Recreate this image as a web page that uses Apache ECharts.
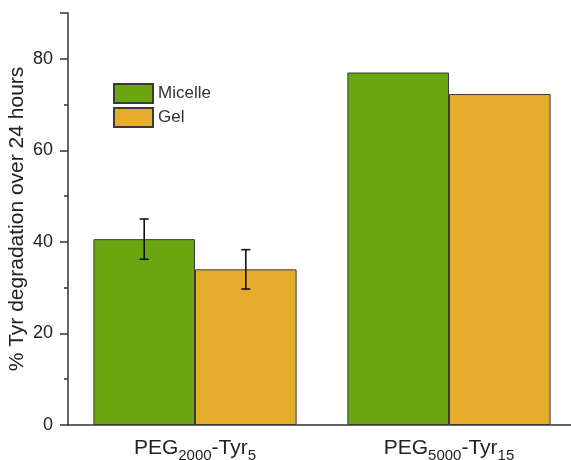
<!DOCTYPE html>
<html>
<head>
<meta charset="utf-8">
<script src="https://cdn.jsdelivr.net/npm/echarts@6/dist/echarts.min.js"></script>
<style>
  html, body { margin: 0; padding: 0; background: #fff; }
  #chart { width: 571px; height: 460px; }
</style>
</head>
<body>
<div id="chart"></div>
<script>
// Polymer samples and the subscripts used in their labels
const categories = ['PEG2000-Tyr5', 'PEG5000-Tyr15'];
const pegSub = ['2000', '5000'];
const tyrSub = ['5', '15'];

// % Tyr degradation over 24 hours
const micelle = [40.6, 77.0];
const gel = [34.0, 72.3];
// standard deviation (second sample has none reported)
const micelleErr = [4.4, null];
const gelErr = [4.3, null];

const yTicks = [0, 20, 40, 60, 80];

const GREEN = '#6aa512';
const ORANGE = '#e6ac2c';
const EDGE = '#3a3a3a';
const FONT = 'Liberation Sans, Arial, sans-serif';

const BAR_FRAC = 0.4; // each bar takes 40% of the category band

function errData(vals, errs) {
  const out = [];
  vals.forEach((v, i) => {
    if (errs[i] != null) out.push([i, v - errs[i], v + errs[i]]);
  });
  return out;
}

function errSeries(name, data, side) {
  return {
    type: 'custom',
    name: name + ' error',
    data: data,
    z: 5,
    silent: true,
    encode: { x: 0, y: [1, 2] },
    renderItem: function (params, api) {
      const band = api.size([1, 0])[0];
      const dx = side * band * BAR_FRAC / 2;
      const lo = api.coord([api.value(0), api.value(1)]);
      const hi = api.coord([api.value(0), api.value(2)]);
      const x = lo[0] + dx;
      const cap = 4.5;
      const style = { stroke: '#111', lineWidth: 1.6 };
      return {
        type: 'group',
        children: [
          { type: 'line', shape: { x1: x, y1: lo[1], x2: x, y2: hi[1] }, style: style },
          { type: 'line', shape: { x1: x - cap, y1: lo[1], x2: x + cap, y2: lo[1] }, style: style },
          { type: 'line', shape: { x1: x - cap, y1: hi[1], x2: x + cap, y2: hi[1] }, style: style }
        ]
      };
    }
  };
}

const chart = echarts.init(document.getElementById('chart'), null, { renderer: 'canvas' });

chart.setOption({
  animation: false,
  backgroundColor: '#fff',
  textStyle: { fontFamily: FONT },
  grid: { left: 68, top: 13, width: 508, bottom: 35, containLabel: false, outerBoundsMode: 'none' },
  legend: {
    orient: 'vertical',
    left: 113,
    top: 83,
    itemWidth: 39,
    itemHeight: 19,
    itemGap: 3,
    padding: 0,
    data: ['Micelle', 'Gel'],
    icon: 'rect',
    textStyle: { fontSize: 17, color: '#333', fontFamily: FONT }
  },
  xAxis: {
    type: 'category',
    data: categories,
    axisLine: { lineStyle: { color: '#333', width: 1.5 } },
    axisTick: { alignWithLabel: true, length: 7, lineStyle: { color: '#333', width: 1.5 } },
    axisLabel: {
      margin: 10,
      color: '#222',
      formatter: function (v, i) {
        return '{a|PEG}{s|' + pegSub[i] + '}{a|-Tyr}{s|' + tyrSub[i] + '}';
      },
      rich: {
        a: { fontSize: 21, fontFamily: FONT, color: '#222', verticalAlign: 'bottom', lineHeight: 24 },
        s: { fontSize: 15, fontFamily: FONT, color: '#222', verticalAlign: 'bottom', lineHeight: 24, padding: [0, 0, -4, 0] }
      }
    }
  },
  yAxis: {
    type: 'value',
    min: 0,
    max: 90,
    interval: 20,
    name: '% Tyr degradation over 24 hours',
    nameLocation: 'middle',
    nameGap: 40,
    nameMoveOverlap: false,
    nameTextStyle: { fontSize: 21, color: '#222', fontFamily: FONT },
    axisLine: { show: true, lineStyle: { color: '#333', width: 1.5 } },
    axisTick: { show: true, length: 8, lineStyle: { color: '#333', width: 1.5 } },
    minorTick: { show: true, splitNumber: 2, length: 4, lineStyle: { color: '#333', width: 1.5 } },
    splitLine: { show: false },
    axisLabel: {
      fontSize: 18,
      color: '#222',
      margin: 15,
      formatter: function (v) { return yTicks.indexOf(v) >= 0 ? String(v) : ''; }
    }
  },
  series: [
    {
      name: 'Micelle',
      type: 'bar',
      data: micelle,
      barWidth: (BAR_FRAC * 100) + '%',
      barGap: '0%',
      itemStyle: { color: GREEN, borderColor: EDGE, borderWidth: 1 }
    },
    {
      name: 'Gel',
      type: 'bar',
      data: gel,
      barWidth: (BAR_FRAC * 100) + '%',
      barGap: '0%',
      itemStyle: { color: ORANGE, borderColor: EDGE, borderWidth: 1 }
    },
    errSeries('Micelle', errData(micelle, micelleErr), -1),
    errSeries('Gel', errData(gel, gelErr), 1)
  ]
});
</script>
</body>
</html>
